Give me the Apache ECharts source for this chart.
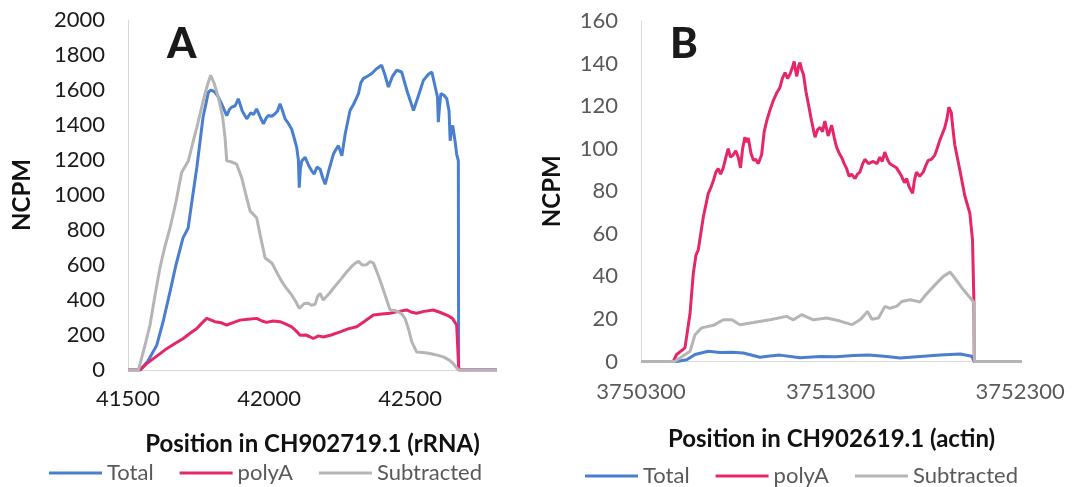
<!DOCTYPE html>
<html>
<head>
<meta charset="utf-8">
<script src="https://cdn.jsdelivr.net/npm/echarts@6/dist/echarts.min.js"></script>
<style>
html,body{margin:0;padding:0;background:#fff;}
#chart{width:1075px;height:487px;}
</style>
</head>
<body>
<div id="chart"></div>
<script>
// ---------- Panel A: CH902719.1 (rRNA) ----------
const xTicksA = [41500, 42000, 42500];
const totalA = [[41500,0],[41543,0],[41570,50],[41602,142],[41625,280],[41649,448],[41670,600],[41695,755],[41713,810],[41728,980],[41744,1157],[41766,1444],[41785,1588],[41795,1600],[41808,1588],[41820,1560],[41832,1521],[41850,1454],[41860,1490],[41868,1502],[41880,1510],[41891,1550],[41905,1480],[41921,1435],[41935,1470],[41945,1460],[41956,1492],[41970,1440],[41980,1406],[41990,1440],[41998,1454],[42010,1450],[42021,1464],[42030,1480],[42039,1521],[42048,1480],[42057,1435],[42068,1410],[42080,1377],[42090,1320],[42098,1272],[42104,1200],[42107,1042],[42111,1150],[42116,1195],[42128,1215],[42140,1170],[42151,1138],[42160,1120],[42170,1160],[42181,1147],[42190,1100],[42199,1061],[42210,1130],[42228,1234],[42237,1260],[42246,1282],[42258,1224],[42270,1350],[42287,1483],[42300,1520],[42317,1579],[42325,1640],[42334,1665],[42350,1680],[42364,1694],[42380,1720],[42399,1741],[42410,1690],[42423,1617],[42438,1680],[42453,1713],[42470,1703],[42490,1590],[42512,1483],[42530,1570],[42547,1655],[42565,1690],[42577,1703],[42589,1617],[42597,1560],[42600,1416],[42604,1500],[42609,1579],[42620,1570],[42630,1550],[42638,1480],[42642,1310],[42647,1380],[42651,1397],[42660,1300],[42665,1234],[42671,1195],[42672,0],[42808,0]];
const polyA_A = [[41500,0],[41543,0],[41565,35],[41590,65],[41615,95],[41637,122],[41665,150],[41696,180],[41720,210],[41744,237],[41760,265],[41779,295],[41795,285],[41808,276],[41830,270],[41850,257],[41875,272],[41897,285],[41925,290],[41956,295],[41975,280],[41991,272],[42015,280],[42039,276],[42060,262],[42080,247],[42095,225],[42110,199],[42130,200],[42145,190],[42157,180],[42175,195],[42193,189],[42220,200],[42252,218],[42280,235],[42311,247],[42340,280],[42370,314],[42400,320],[42429,324],[42460,335],[42488,343],[42505,330],[42523,324],[42550,335],[42582,343],[42605,330],[42630,314],[42650,295],[42665,257],[42672,20],[42673,0],[42808,0]];
const subtractedA = [[41500,0],[41537,0],[41560,140],[41578,257],[41595,420],[41613,582],[41630,700],[41649,812],[41670,960],[41690,1128],[41714,1195],[41730,1300],[41744,1387],[41767,1540],[41780,1620],[41793,1684],[41805,1640],[41820,1559],[41835,1450],[41844,1329],[41850,1195],[41865,1190],[41885,1176],[41903,1099],[41918,1000],[41933,908],[41956,870],[41970,760],[41986,640],[42010,611],[42030,550],[42045,506],[42060,470],[42080,429],[42095,390],[42107,352],[42125,380],[42139,381],[42150,370],[42163,375],[42172,420],[42181,438],[42192,400],[42199,400],[42215,440],[42228,467],[42245,500],[42258,525],[42275,560],[42293,592],[42305,610],[42317,621],[42330,600],[42346,602],[42358,620],[42370,611],[42385,550],[42399,487],[42415,410],[42429,343],[42445,340],[42458,333],[42470,320],[42482,295],[42495,230],[42506,161],[42523,103],[42545,100],[42571,94],[42595,85],[42618,75],[42640,55],[42653,36],[42672,0],[42808,0]];

// ---------- Panel B: CH902619.1 (actin) ----------
const xTicksB = [3750300, 3751300, 3752300];
const totalB = [[3750300,0],[3750488,0],[3750541,0.8],[3750585,3.3],[3750655,4.8],[3750717,4.2],[3750780,4.3],[3750840,4],[3750927,2],[3750980,2.6],[3751033,3],[3751139,1.8],[3751245,2.4],[3751330,2.2],[3751420,2.8],[3751500,3],[3751597,2.4],[3751667,1.6],[3751773,2.4],[3751878,3],[3751984,3.5],[3752045,2.5],[3752058,0],[3752310,0]];
const polyA_B = [[3750300,0],[3750470,0],[3750488,3.3],[3750532,6.4],[3750559,22.8],[3750576,41.5],[3750590,50],[3750602,52.4],[3750629,68],[3750655,79],[3750670,82],[3750682,85],[3750695,89],[3750707,90.6],[3750720,88],[3750734,91],[3750748,96],[3750760,100],[3750772,96],[3750786,97],[3750800,99],[3750813,96],[3750825,91],[3750836,100],[3750848,105.4],[3750858,103],[3750866,105],[3750880,98],[3750893,94.5],[3750905,95],[3750919,93],[3750936,97],[3750950,108],[3750963,113],[3750980,118],[3750998,122.6],[3751015,126],[3751033,128.8],[3751046,133],[3751060,135.8],[3751073,133],[3751086,135],[3751098,138],[3751108,141],[3751115,137],[3751122,134],[3751132,139],[3751139,140.5],[3751148,137],[3751157,135],[3751170,127],[3751183,121],[3751200,113],[3751218,105.4],[3751232,109],[3751245,110],[3751258,108],[3751270,113],[3751287,106],[3751306,111],[3751320,105],[3751332,100.7],[3751345,98],[3751358,96],[3751372,93],[3751385,90.6],[3751398,87],[3751411,88],[3751429,86],[3751442,88],[3751455,89],[3751470,93],[3751481,95],[3751500,93],[3751525,94],[3751545,93],[3751560,96],[3751573,94],[3751586,98.4],[3751600,95],[3751612,93],[3751630,92],[3751648,91],[3751662,89],[3751675,87],[3751690,84],[3751701,86],[3751715,82],[3751733,79],[3751742,85],[3751753,89],[3751770,87],[3751789,89],[3751802,92],[3751815,94.5],[3751832,95],[3751850,97],[3751862,100],[3751876,103.9],[3751890,107],[3751903,110],[3751914,114],[3751924,119.5],[3751937,117],[3751946,109],[3751955,102],[3751982,90],[3752008,78],[3752035,69.6],[3752049,57],[3752056,29],[3752058,0],[3752310,0]];
const subtractedB = [[3750300,0],[3750478,0],[3750559,4.8],[3750585,12.6],[3750620,15.8],[3750682,17],[3750734,19.6],[3750779,19.6],[3750822,17.3],[3750893,18.3],[3750980,19.6],[3751068,21.2],[3751104,19.6],[3751147,22],[3751209,19.6],[3751280,20.4],[3751350,19],[3751412,17.3],[3751456,19.6],[3751495,23.5],[3751518,19.9],[3751553,20.4],[3751587,25.9],[3751614,25],[3751650,26],[3751676,28.2],[3751720,29],[3751773,28],[3751799,31],[3751851,36],[3751895,40],[3751931,42],[3751957,39],[3752001,33.7],[3752045,29],[3752058,27.5],[3752059,0],[3752310,0]];

const seriesNames = ['Total', 'polyA', 'Subtracted'];
const colors = ['#4a7fcf', '#e6266b', '#b5b5b5'];
const FONT = 'Lato, "Open Sans", sans-serif';

const chart = echarts.init(document.getElementById('chart'), null, {renderer: 'canvas'});

function xAxisCfg(gridIndex, min, max, interval, ticks, name, labelColor, nameGap, labelMargin) {
  return {
    type: 'value', gridIndex, min, max, interval,
    name, nameLocation: 'middle', nameGap,
    nameTextStyle: {fontFamily: FONT, fontWeight: 'bold', fontSize: 24, color: '#111'},
    axisLine: {show: true, lineStyle: {color: '#d9d9d9', width: 1}},
    axisTick: {show: false},
    splitLine: {show: false},
    axisLabel: {
      fontFamily: FONT, fontSize: 22, color: labelColor, margin: labelMargin,
      formatter: v => ticks.indexOf(v) >= 0 ? String(v) : '',
      showMaxLabel: false
    }
  };
}
function yAxisCfg(gridIndex, max, interval, labelColor, nameGap) {
  return {
    type: 'value', gridIndex, min: 0, max, interval,
    name: 'NCPM', nameLocation: 'middle', nameGap, nameRotate: 90,
    nameTextStyle: {fontFamily: FONT, fontWeight: 'bold', fontSize: 24, color: '#111'},
    axisLine: {show: true, lineStyle: {color: '#d9d9d9', width: 1}},
    axisTick: {show: false},
    splitLine: {show: false},
    axisLabel: {fontFamily: FONT, fontSize: 22, color: labelColor, margin: 23, formatter: v => String(v)}
  };
}
function lineSeries(name, data, idx, color) {
  return {
    name, type: 'line', data, xAxisIndex: idx, yAxisIndex: idx,
    showSymbol: false, symbol: 'none', animation: false,
    lineStyle: {color, width: 3}, itemStyle: {color}
  };
}
function legendCfg(left, top) {
  return {
    data: seriesNames, left, top, itemWidth: 53, itemHeight: 3, itemGap: 26,
    icon: 'rect', textStyle: {fontFamily: FONT, fontSize: 22, color: '#595959'}
  };
}

chart.setOption({
  backgroundColor: '#fff',
  animation: false,
  title: [
    {text: 'A', left: 162, top: 18, textStyle: {fontFamily: FONT, fontWeight: 900, fontSize: 42, color: '#1a1a1a'}},
    {text: 'B', left: 665, top: 18, textStyle: {fontFamily: FONT, fontWeight: 900, fontSize: 42, color: '#1a1a1a'}}
  ],
  legend: [legendCfg(44, 457), legendCfg(580, 460)],
  grid: [
    {left: 128, top: 20, width: 369, height: 350},
    {left: 641, top: 21, width: 381, height: 340.5}
  ],
  xAxis: [
    xAxisCfg(0, 41500, 42808, 500, xTicksA, 'Position in CH902719.1 (rRNA)', '#1a1a1a', 62, 18),
    xAxisCfg(1, 3750300, 3752310, 1000, xTicksB, 'Position in CH902619.1 (actin)', '#595959', 66, 19)
  ],
  yAxis: [
    yAxisCfg(0, 2000, 200, '#1a1a1a', 94),
    yAxisCfg(1, 160, 20, '#595959', 77)
  ],
  series: [
    lineSeries('Total', totalA, 0, colors[0]),
    lineSeries('polyA', polyA_A, 0, colors[1]),
    lineSeries('Subtracted', subtractedA, 0, colors[2]),
    lineSeries('Total', totalB, 1, colors[0]),
    lineSeries('polyA', polyA_B, 1, colors[1]),
    lineSeries('Subtracted', subtractedB, 1, colors[2])
  ]
});
</script>
</body>
</html>
